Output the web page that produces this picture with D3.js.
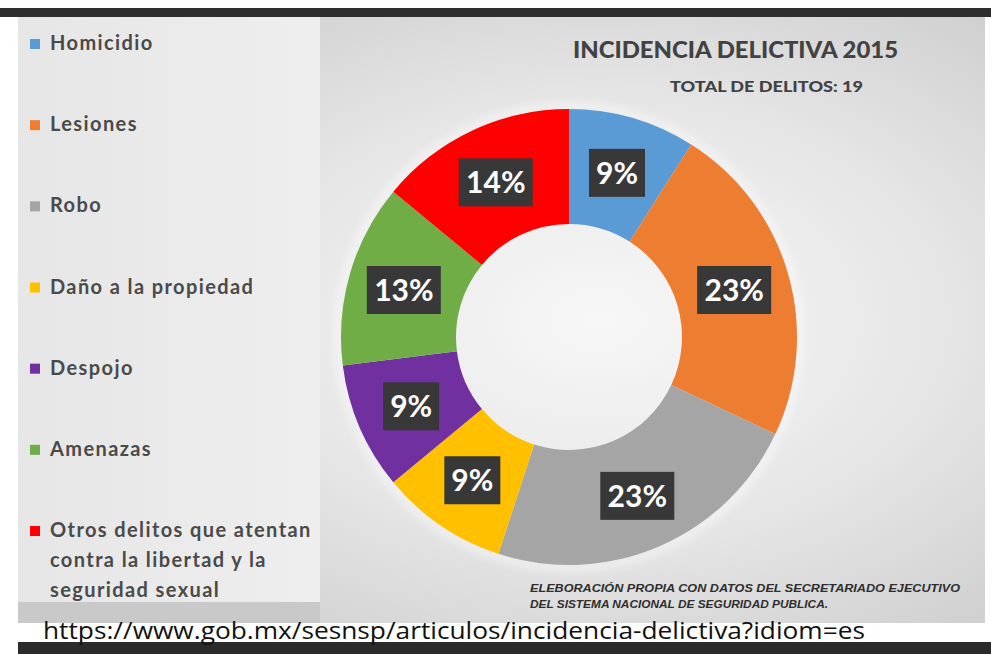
<!DOCTYPE html>
<html>
<head>
<meta charset="utf-8">
<script src="https://cdn.jsdelivr.net/npm/d3@7"></script>
<style>
  html, body { margin: 0; padding: 0; background: #ffffff; }
  svg { display: block; }
</style>
</head>
<body>
<svg id="chart" width="991" height="654"></svg>
<script>
// ---- data ----
const categories = ["Homicidio", "Lesiones", "Robo", "Daño a la propiedad", "Despojo", "Amenazas", "Otros delitos que atentan contra la libertad y la seguridad sexual"];
const legendLines = [["Homicidio"], ["Lesiones"], ["Robo"], ["Daño a la propiedad"], ["Despojo"], ["Amenazas"], ["Otros delitos que atentan", "contra la libertad y la", "seguridad sexual"]];
const values = [9, 23, 23, 9, 9, 13, 14];
const colors = ["#5b9bd5", "#ed7d31", "#a5a5a5", "#ffc000", "#7030a0", "#70ad47", "#ff0000"];
const titleText = "INCIDENCIA DELICTIVA 2015";
const subtitleText = "TOTAL DE DELITOS: 19";
const noteLines = ["ELEBORACIÓN PROPIA CON DATOS DEL SECRETARIADO EJECUTIVO", "DEL  SISTEMA NACIONAL DE SEGURIDAD PUBLICA."];
const urlText = "https://www.gob.mx/sesnsp/articulos/incidencia-delictiva?idiom=es";

const svg = d3.select("#chart");
const defs = svg.append("defs");

// background gradients
const rg = defs.append("radialGradient").attr("id", "bg")
  .attr("cx", "0.6").attr("cy", "0.5").attr("r", "0.65");
rg.append("stop").attr("offset", "0").attr("stop-color", "#f7f7f7");
rg.append("stop").attr("offset", "0.55").attr("stop-color", "#e6e6e6");
rg.append("stop").attr("offset", "1").attr("stop-color", "#cfcfcf");

const lg = defs.append("linearGradient").attr("id", "leg").attr("x1", 0).attr("x2", 1).attr("y1", 0).attr("y2", 0);
lg.append("stop").attr("offset", "0").attr("stop-color", "#e6e6e6");
lg.append("stop").attr("offset", "1").attr("stop-color", "#eeeeee");

const sh = defs.append("filter").attr("id", "glow").attr("x", "-20%").attr("y", "-20%").attr("width", "140%").attr("height", "140%");
sh.append("feGaussianBlur").attr("stdDeviation", 4);

// frame
svg.append("rect").attr("x", 0).attr("y", 8).attr("width", 991).attr("height", 9).attr("fill", "#2e2e2e");
svg.append("rect").attr("x", 18).attr("y", 17).attr("width", 967).attr("height", 606).attr("fill", "url(#bg)");
svg.append("rect").attr("x", 18).attr("y", 17).attr("width", 302).attr("height", 585).attr("fill", "url(#leg)");
svg.append("rect").attr("x", 18).attr("y", 602).attr("width", 302).attr("height", 21).attr("fill", "#c9c9c9");
svg.append("rect").attr("x", 18).attr("y", 642).attr("width", 973).attr("height", 12).attr("fill", "#2b2b2b");

// title
svg.append("text").attr("x", 573).attr("y", 58)
  .attr("font-family", "Lato, 'Open Sans', sans-serif").attr("font-weight", "900")
  .attr("font-size", 22).attr("fill", "#424242")
  .attr("textLength", 325).attr("lengthAdjust", "spacingAndGlyphs").text(titleText);
svg.append("text").attr("x", 670).attr("y", 92)
  .attr("font-family", "Lato, 'Open Sans', sans-serif").attr("font-weight", "900")
  .attr("font-size", 14.5).attr("fill", "#424242")
  .attr("textLength", 193).attr("lengthAdjust", "spacingAndGlyphs").text(subtitleText);

// legend
const legY = d3.scalePoint().domain(categories).range([50, 537]);
const leg = svg.append("g");
categories.forEach((c, i) => {
  const y = legY(c);
  leg.append("rect").attr("x", 30).attr("y", y - 11).attr("width", 10).attr("height", 10).attr("fill", colors[i]);
  legendLines[i].forEach((ln, j) => {
    leg.append("text").attr("x", 50).attr("y", y + j * 30)
      .attr("font-family", "Lato, 'Open Sans', sans-serif").attr("font-weight", "bold")
      .attr("font-size", 20).attr("fill", "#4a4a4a").attr("letter-spacing", 1.4).text(ln);
  });
});

// donut
const cx = 569, cy = 337, R = 228, r = 113;
const pie = d3.pie().sort(null).value(d => d);
const arcs = pie(values);
const arc = d3.arc().innerRadius(r).outerRadius(R);
const labelArc = d3.arc().innerRadius(172).outerRadius(172);
const g = svg.append("g").attr("transform", `translate(${cx},${cy})`);
g.append("circle").attr("r", R + 3).attr("fill", "none").attr("stroke", "#ffffff").attr("stroke-width", 6).attr("opacity", 0.6).attr("filter", "url(#glow)");
g.selectAll("path.slice").data(arcs).join("path").attr("class", "slice")
  .attr("d", arc).attr("fill", (d, i) => colors[i]);

const lab = g.selectAll("g.lab").data(arcs).join("g").attr("class", "lab")
  .attr("transform", d => `translate(${labelArc.centroid(d)})`);
lab.append("rect")
  .attr("x", d => d.data >= 10 ? -37 : -28).attr("y", -23)
  .attr("width", d => d.data >= 10 ? 74 : 56).attr("height", 48)
  .attr("fill", "#383838");
lab.append("text").attr("text-anchor", "middle").attr("y", 12)
  .attr("font-family", "Lato, 'Open Sans', sans-serif").attr("font-weight", "bold")
  .attr("font-size", 30).attr("fill", "#ffffff").text(d => d.data + "%");

// note
noteLines.forEach((ln, j) => {
  svg.append("text").attr("x", 530).attr("y", 592 + j * 16)
    .attr("font-family", "'Liberation Sans Narrow', 'Liberation Sans', sans-serif").attr("font-weight", "bold")
    .attr("font-style", "italic").attr("font-size", 11).attr("fill", "#2e2e2e")
    .attr("textLength", j === 0 ? 430 : 298).attr("lengthAdjust", "spacingAndGlyphs").text(ln);
});

// url
svg.append("text").attr("x", 43).attr("y", 639)
  .attr("font-family", "'Open Sans', 'DejaVu Sans', sans-serif").attr("font-size", 23).attr("fill", "#111")
  .attr("textLength", 822).attr("lengthAdjust", "spacingAndGlyphs").text(urlText);
</script>
</body>
</html>
